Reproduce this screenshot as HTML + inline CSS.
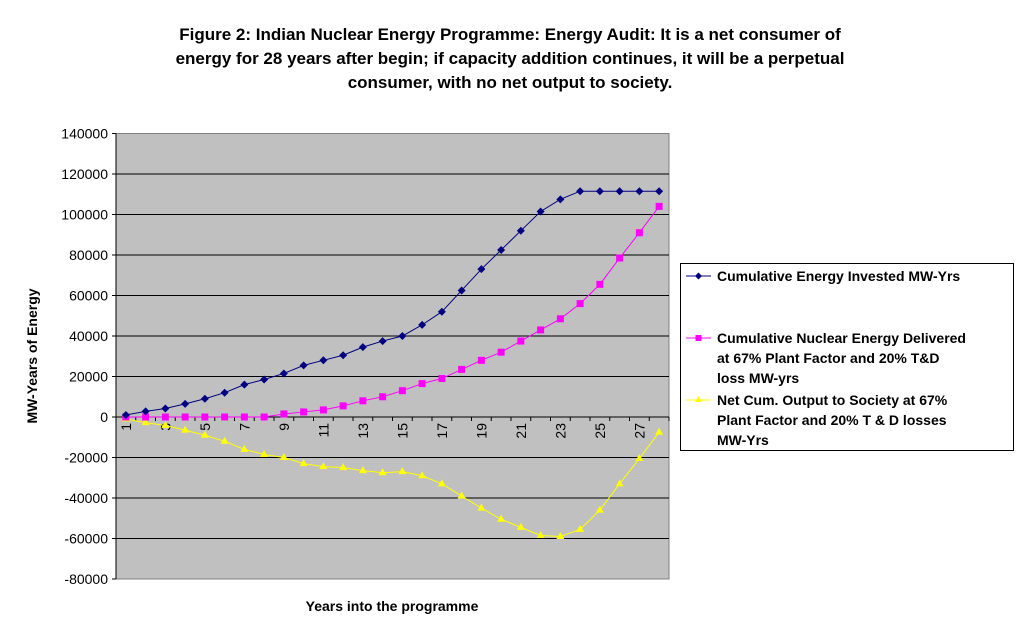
<!DOCTYPE html>
<html><head><meta charset="utf-8"><style>
body{margin:0;background:#fff;}
svg{display:block;font-family:"Liberation Sans",Arial,sans-serif;}
</style></head><body>
<svg id="c" width="1020" height="637" viewBox="0 0 1020 637">
<g font-weight="bold" font-size="17" text-anchor="middle">
<text x="510" y="40">Figure 2: Indian Nuclear Energy Programme: Energy Audit: It is a net consumer of</text>
<text x="510" y="64">energy for 28 years after begin; if capacity addition continues, it will be a perpetual</text>
<text x="510" y="88">consumer, with no net output to society.</text>
</g>
<rect x="116" y="133.5" width="553" height="445.5" fill="#c0c0c0" stroke="#808080"/>
<g id="grid"></g><g id="yt"></g><g id="xt"></g><g id="series"></g>
<text x="0" y="0" transform="translate(37,356) rotate(-90)" text-anchor="middle" font-size="14" font-weight="bold">MW-Years of Energy</text>
<text x="392" y="611" text-anchor="middle" font-size="14" font-weight="bold">Years into the programme</text>
<g>
<rect x="680.5" y="263.5" width="333" height="187" fill="#fff" stroke="#000"/>
<g>
<line x1="686" y1="276" x2="711" y2="276" stroke="#000080"/><path d="M698.5 272.5 L702 276 L698.5 279.5 L695 276Z" fill="#000080"/>
<text x="717" y="281" font-size="14" font-weight="bold">Cumulative Energy Invested MW-Yrs</text></g>
<g>
<line x1="686" y1="338" x2="711" y2="338" stroke="#ff00ff"/><rect x="695.5" y="335" width="6" height="6" fill="#ff00ff"/>
<text font-size="14" font-weight="bold"><tspan x="717" y="343">Cumulative Nuclear  Energy Delivered</tspan><tspan x="717" y="363">at 67%  Plant Factor  and 20% T&amp;D</tspan><tspan x="717" y="383">loss MW-yrs</tspan></text></g>
<g>
<line x1="686" y1="400" x2="711" y2="400" stroke="#ffff00"/><path d="M698.5 396 L702 402 L695 402Z" fill="#ffff00"/>
<text font-size="14" font-weight="bold"><tspan x="717" y="405">Net Cum. Output to  Society at 67%</tspan><tspan x="717" y="425">Plant Factor and 20% T &amp; D losses</tspan><tspan x="717" y="445">MW-Yrs</tspan></text></g>
</g>
</svg>
<script>
const categories=[1,2,3,4,5,6,7,8,9,10,11,12,13,14,15,16,17,18,19,20,21,22,23,24,25,26,27,28];
const invested=[1000,2800,4200,6500,9000,12000,16000,18500,21500,25500,28000,30500,34500,37500,40000,45500,52000,62500,73000,82500,92000,101500,107500,111500,111500,111500,111500,111500];
const delivered=[0,0,0,0,0,0,0,0,1500,2500,3500,5500,8000,10000,13000,16500,19000,23500,28000,32000,37500,43000,48500,56000,65500,78500,91000,104000];
const netOutput=[-1000,-2800,-4200,-6500,-9000,-12000,-16000,-18500,-20000,-23000,-24500,-25000,-26500,-27500,-27000,-29000,-33000,-39000,-45000,-50500,-54500,-58500,-59000,-55500,-46000,-33000,-20500,-7500];
const yTicks=[140000,120000,100000,80000,60000,40000,20000,0,-20000,-40000,-60000,-80000];
const NS='http://www.w3.org/2000/svg';
const X0=116,PW=553,Y0=417,K=40.5/20000;
const x=i=>X0+PW/categories.length*(i+0.5);
const y=v=>Y0-v*K;
function mk(t,a,p){const e=document.createElementNS(NS,t);for(const k in a)e.setAttribute(k,a[k]);p.appendChild(e);return e;}
const grid=document.getElementById('grid'),yt=document.getElementById('yt'),xt=document.getElementById('xt'),ser=document.getElementById('series');
yTicks.forEach(v=>{
 if(v!==140000&&v!==-80000){const g=mk('line',{x1:X0,x2:X0+PW,y1:y(v),y2:y(v),stroke:'#000'},grid);
 
 }
 mk('line',{x1:X0-4,x2:X0,y1:y(v),y2:y(v),stroke:'#000'},yt);
 const t=mk('text',{x:X0-8,y:y(v)+5,'text-anchor':'end','font-size':14},yt);
 
 
 t.textContent=v;
});
mk('line',{x1:X0,x2:X0,y1:y(140000),y2:y(-80000),stroke:'#000'},yt);
mk('line',{x1:X0,x2:X0+PW,y1:Y0,y2:Y0,stroke:'#000'},xt);
categories.forEach((c,i)=>{
 mk('line',{x1:X0+PW/categories.length*(i+1),x2:X0+PW/categories.length*(i+1),y1:Y0,y2:Y0+4,stroke:'#000'},xt);
 if(i%2===0){const t=mk('text',{transform:`translate(${x(i)+5},${Y0+6}) rotate(-90)`,'text-anchor':'end','font-size':14},xt);
 
 
 t.textContent=c;}
});
function series(vals,color,name,shape){
 const g=mk('g',{},ser);
 
 
 mk('polyline',{points:vals.map((v,i)=>x(i)+','+y(v)).join(' '),fill:'none',stroke:color,'stroke-width':1},g);
 vals.forEach((v,i)=>{const cx=x(i),cy=y(v);let m;
  if(shape==='d')m=mk('path',{d:`M${cx} ${cy-4}L${cx+4} ${cy}L${cx} ${cy+4}L${cx-4} ${cy}Z`,fill:color},g);
  else if(shape==='s')m=mk('rect',{x:cx-3.5,y:cy-3.5,width:7,height:7,fill:color},g);
  else m=mk('path',{d:`M${cx} ${cy-4.5}L${cx+4} ${cy+2.5}L${cx-4} ${cy+2.5}Z`,fill:color},g);
  
  
 });
}
series(netOutput,'#ffff00','series-net-output','t');
series(delivered,'#ff00ff','series-delivered','s');
series(invested,'#000080','series-invested','d');
</script>
</body></html>
